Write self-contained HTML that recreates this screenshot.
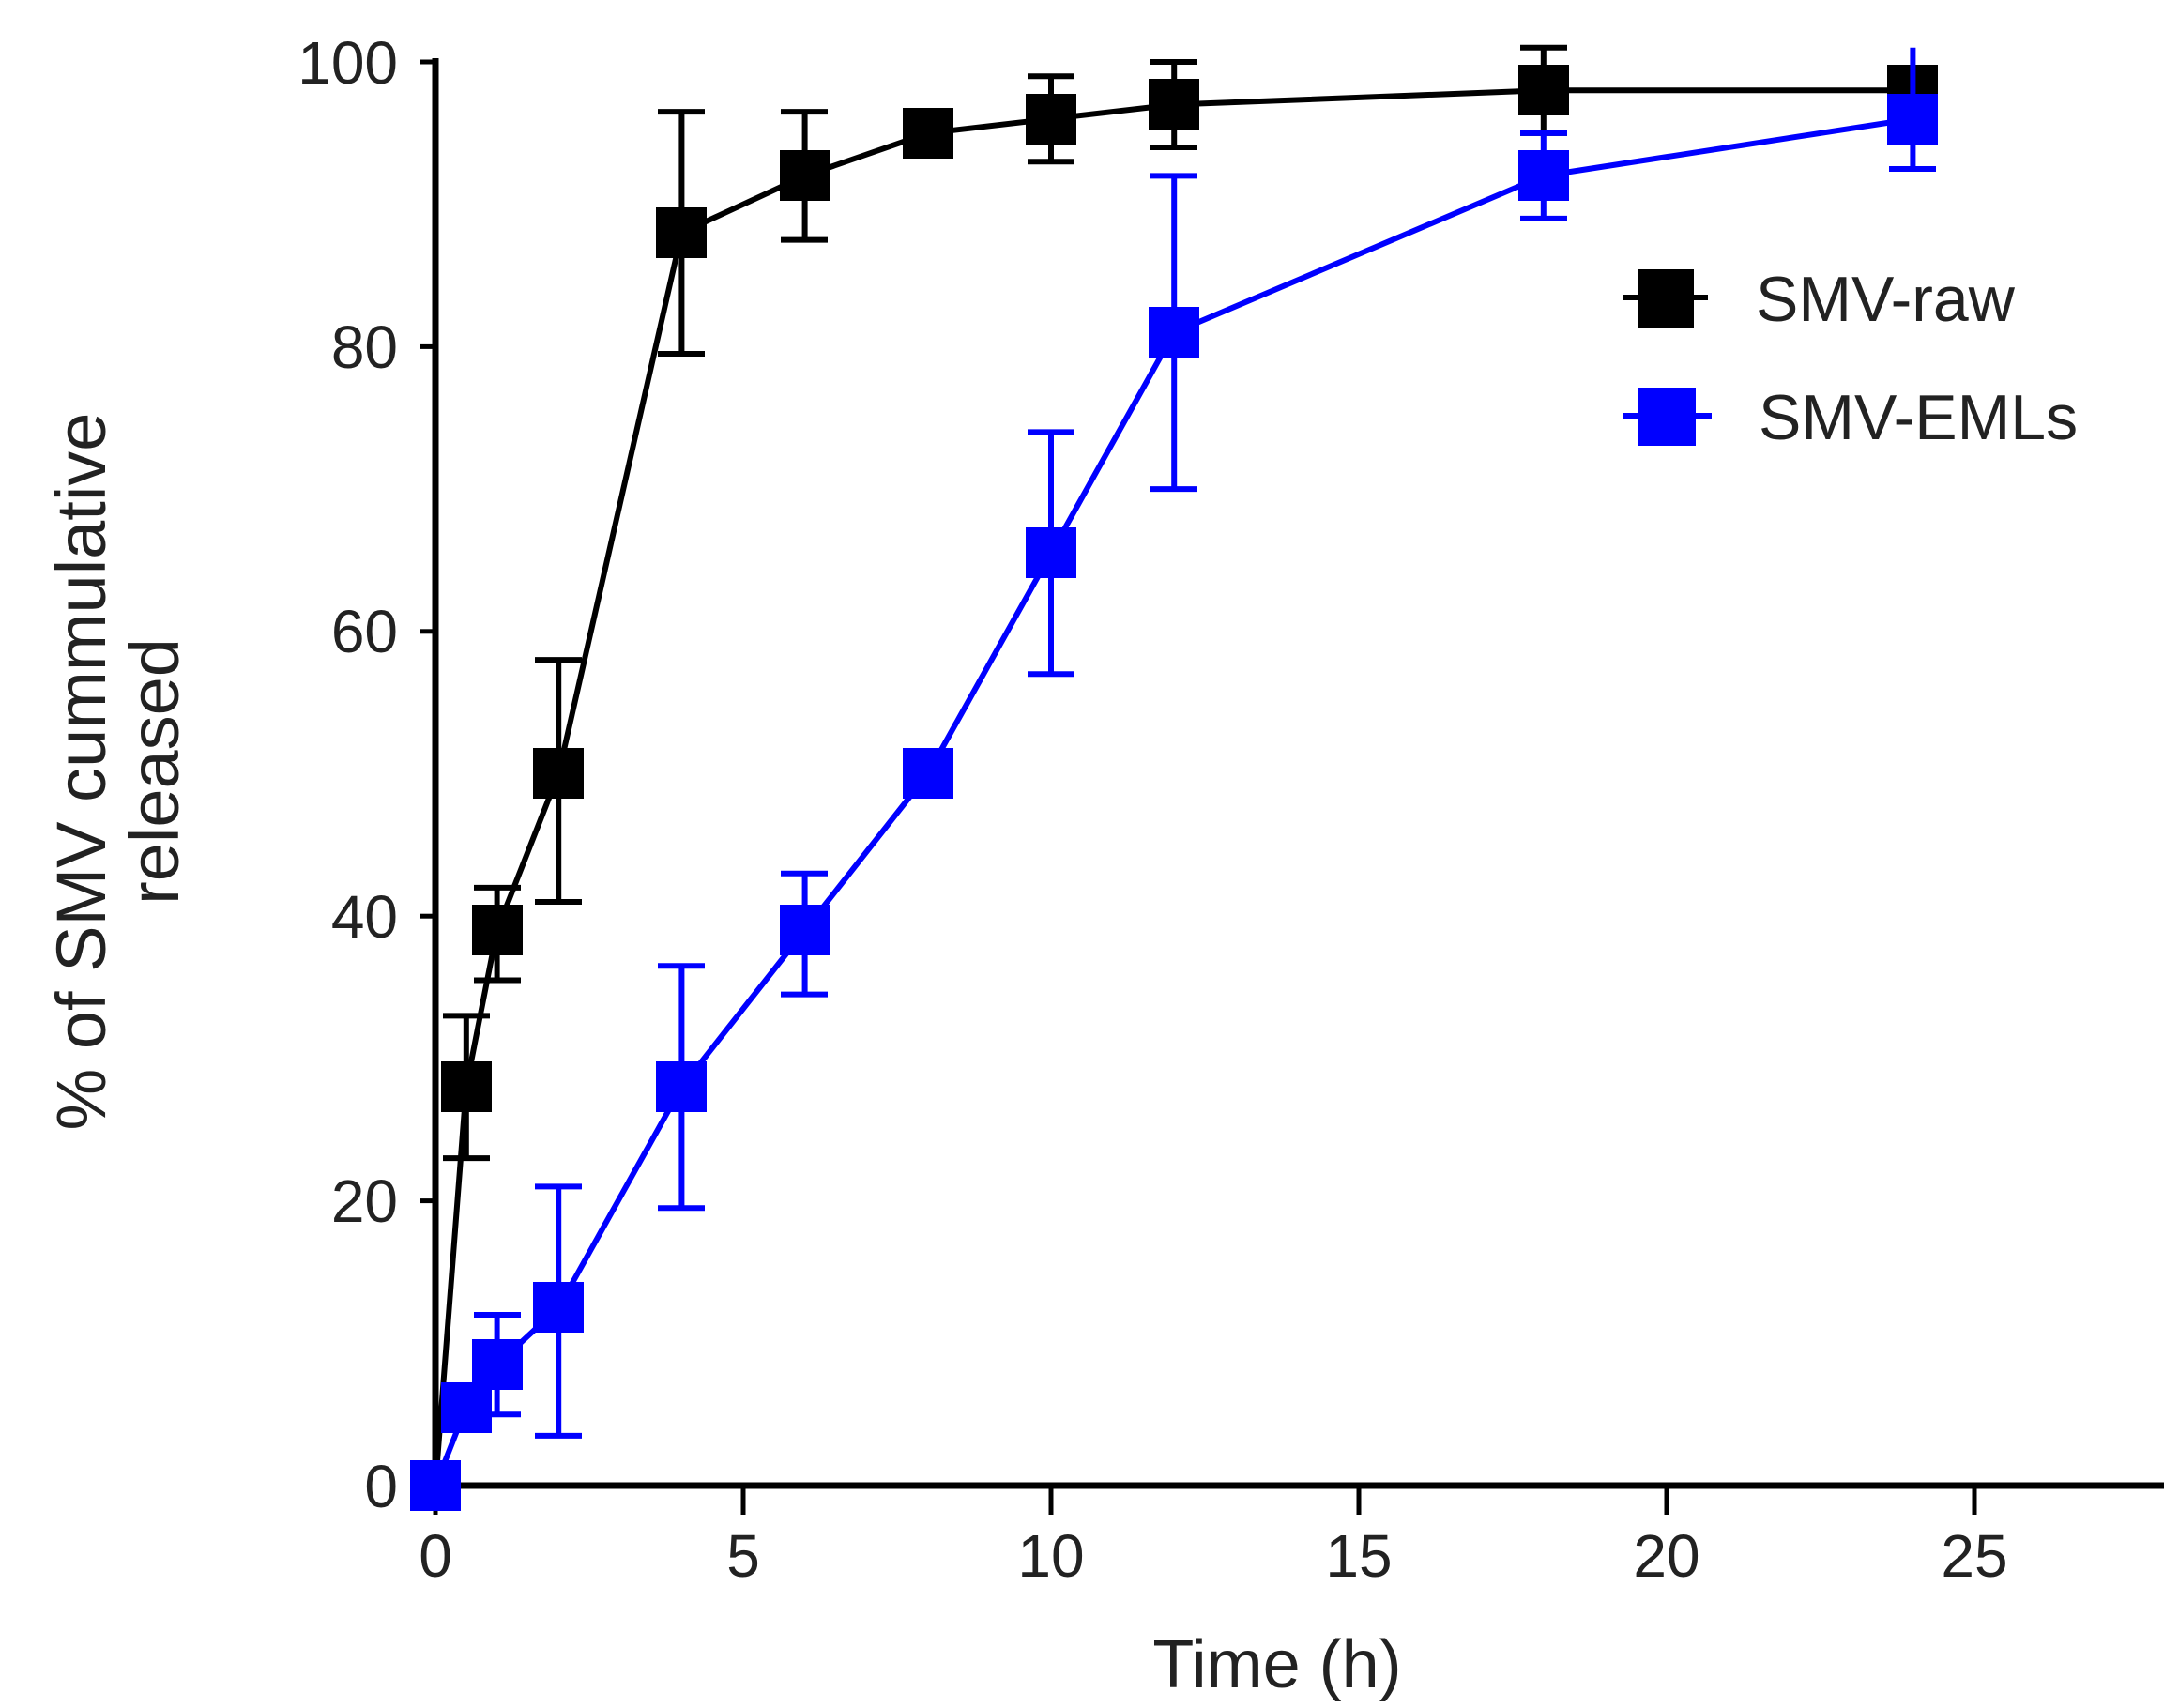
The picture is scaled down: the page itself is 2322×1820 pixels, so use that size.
<!DOCTYPE html>
<html><head><meta charset="utf-8"><style>html,body{margin:0;padding:0;background:#fff}svg{display:block}</style></head>
<body>
<svg width="2322" height="1820" viewBox="0 0 2322 1820" xmlns="http://www.w3.org/2000/svg" font-family="Liberation Sans, sans-serif">
<rect width="2322" height="1820" fill="#fff"/>
<g stroke="#000" stroke-width="7" fill="none">
<line x1="464" y1="62" x2="464" y2="1586"/>
<line x1="460" y1="1583" x2="2306" y2="1583"/>
<g stroke-width="5">
<line x1="448" y1="66" x2="464" y2="66"/>
<line x1="448" y1="369.4" x2="464" y2="369.4"/>
<line x1="448" y1="672.8" x2="464" y2="672.8"/>
<line x1="448" y1="976.2" x2="464" y2="976.2"/>
<line x1="448" y1="1279.6" x2="464" y2="1279.6"/>
<line x1="448" y1="1583" x2="464" y2="1583"/>
<line x1="464" y1="1583" x2="464" y2="1614"/>
<line x1="792" y1="1583" x2="792" y2="1614"/>
<line x1="1120" y1="1583" x2="1120" y2="1614"/>
<line x1="1448" y1="1583" x2="1448" y2="1614"/>
<line x1="1776" y1="1583" x2="1776" y2="1614"/>
<line x1="2104" y1="1583" x2="2104" y2="1614"/>
</g>
</g>
<g font-size="64" fill="#222" text-anchor="end">
<text x="424" y="89">100</text>
<text x="424" y="392">80</text>
<text x="424" y="695">60</text>
<text x="424" y="999">40</text>
<text x="424" y="1302">20</text>
<text x="424" y="1606">0</text>
</g>
<g font-size="64" fill="#222" text-anchor="middle">
<text x="464" y="1680">0</text>
<text x="792" y="1680">5</text>
<text x="1120" y="1680">10</text>
<text x="1448" y="1680">15</text>
<text x="1776" y="1680">20</text>
<text x="2104" y="1680">25</text>
<text x="1361" y="1798" font-size="72">Time (h)</text>
</g>
<g font-size="74" fill="#222" text-anchor="middle">
<text transform="translate(112,822) rotate(-90)">% of  SMV cummulative</text>
<text transform="translate(190,822) rotate(-90)">released</text>
</g>
<g stroke="#000" stroke-width="6" fill="none">
<polyline points="464,1583 496.8,1158.2 529.6,991.4 595.2,824.5 726.4,248 857.6,187.4 988.8,141.9 1120,126.7 1251.2,111.5 1644.8,96.3 2038.4,96.3"/>
<path d="M496.8,1234.1V1082.4M472,1234.1h50M472,1082.4h50
M529.6,1044.5V945.9M505,1044.5h50M505,945.9h50
M595.2,961V703.1M570,961h50M570,703.1h50
M726.4,377V119.1M701,377h50M701,119.1h50
M857.6,255.6V119.1M832,255.6h50M832,119.1h50
M1120,172.2V81.2M1095,172.2h50M1095,81.2h50
M1251.2,157V66M1226,157h50M1226,66h50
M1644.8,141.9V50.8M1620,141.9h50M1620,50.8h50"/>
</g>
<g fill="#000">
<rect x="470" y="1131" width="54" height="54"/>
<rect x="503" y="964" width="54" height="54"/>
<rect x="568" y="797" width="54" height="54"/>
<rect x="699" y="221" width="54" height="54"/>
<rect x="831" y="160" width="54" height="54"/>
<rect x="962" y="115" width="54" height="54"/>
<rect x="1093" y="100" width="54" height="54"/>
<rect x="1224" y="84" width="54" height="54"/>
<rect x="1618" y="69" width="54" height="54"/>
<rect x="2011" y="69" width="54" height="54"/>
</g>
<g stroke="#0000ff" stroke-width="6" fill="none">
<polyline points="464,1583 496.8,1499.6 529.6,1454.1 595.2,1393.4 726.4,1158.2 857.6,991.4 988.8,824.5 1120,589.4 1251.2,354.2 1644.8,187.4 2038.4,126.7"/>
<path d="M529.6,1507.2V1401M505,1507.2h50M505,1401h50
M595.2,1529.9V1264.4M570,1529.9h50M570,1264.4h50
M726.4,1287.2V1029.3M701,1287.2h50M701,1029.3h50
M857.6,1059.6V930.7M832,1059.6h50M832,930.7h50
M1120,718.3V460.4M1095,718.3h50M1095,460.4h50
M1251.2,521.1V187.4M1226,521.1h50M1226,187.4h50
M1644.8,232.9V141.9M1620,232.9h50M1620,141.9h50
M2038.4,180V50.8M2013,180h50"/>
</g>
<g fill="#0000ff">
<rect x="437" y="1556" width="54" height="54"/>
<rect x="470" y="1473" width="54" height="54"/>
<rect x="503" y="1427" width="54" height="54"/>
<rect x="568" y="1366" width="54" height="54"/>
<rect x="699" y="1131" width="54" height="54"/>
<rect x="831" y="964" width="54" height="54"/>
<rect x="962" y="797" width="54" height="54"/>
<rect x="1093" y="562" width="54" height="54"/>
<rect x="1224" y="327" width="54" height="54"/>
<rect x="1618" y="160" width="54" height="54"/>
<rect x="2011" y="100" width="54" height="54"/>
</g>
<line x1="1730" y1="317" x2="1820" y2="317" stroke="#000" stroke-width="6"/>
<rect x="1745" y="287" width="60" height="62" fill="#000"/>
<line x1="1730" y1="443" x2="1824" y2="443" stroke="#0000ff" stroke-width="6"/>
<rect x="1745" y="413" width="62" height="62" fill="#0000ff"/>
<g font-size="68" fill="#222">
<text x="1871" y="342">SMV-raw</text>
<text x="1874" y="468">SMV-EMLs</text>
</g>
</svg>
</body></html>
